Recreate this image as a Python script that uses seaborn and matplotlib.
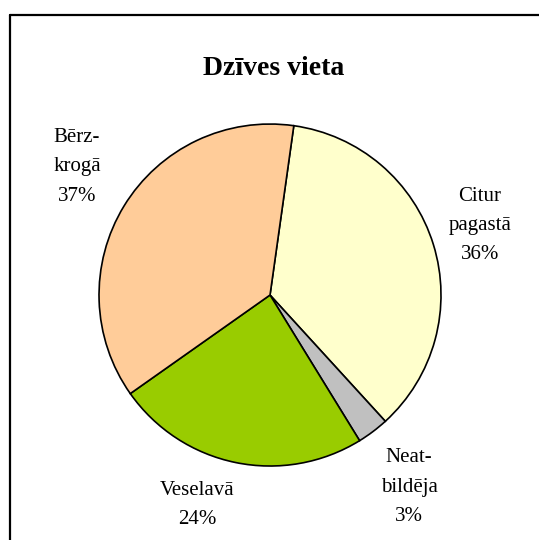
import matplotlib
matplotlib.use('Agg')
import matplotlib.pyplot as plt
import seaborn as sns
from matplotlib.lines import Line2D

# 데이터
vietas = ['Citur\npagastā', 'Neat-\nbildēja', 'Veselavā', 'Bērz-\nkrogā']
procenti = [36, 3, 24, 37]
krasas = ['#FFFFCC', '#C0C0C0', '#99CC00', '#FFCC99']

# label positions (data coords, pie radius = 1)
label_pos = [(1.228, 0.409), (0.813, -1.123), (-0.427, -1.228), (-1.129, 0.749)]

sns.set_style('white')
plt.rcParams['font.family'] = ['Liberation Serif', 'DejaVu Serif']

fig = plt.figure(figsize=(5.39, 5.40), dpi=100)
ax = fig.add_axes([0.1837, 0.137, 0.6345, 0.6333])

wedges, texts = ax.pie(procenti,
                       labels=[f'{v}\n{p}%' for v, p in zip(vietas, procenti)],
                       colors=sns.color_palette(krasas),
                       startangle=82,
                       counterclock=False,
                       wedgeprops=dict(edgecolor='black', linewidth=1.2),
                       textprops=dict(fontsize=15, color='black'))
for t, pos in zip(texts, label_pos):
    t.set_position(pos)
    t.set_ha('center')
    t.set_va('center')
    t.set_multialignment('center')
    t.set_linespacing(1.72)
    t.set_clip_on(False)

ax.set_xlim(-1, 1)
ax.set_ylim(-1, 1)
ax.set_aspect('equal')
ax.axis('off')

fig.text(0.507, 0.862, 'Dzīves vieta', ha='center', va='baseline',
         fontsize=20, fontweight='bold', color='black')

# chart border (only left and top visible)
fig.add_artist(Line2D([9.5 / 539, 9.5 / 539], [1 - 14.5 / 540, -0.1],
                      color='black', linewidth=1.6, transform=fig.transFigure))
fig.add_artist(Line2D([9.5 / 539, 1.1], [1 - 14.5 / 540, 1 - 14.5 / 540],
                      color='black', linewidth=1.6, transform=fig.transFigure))

plt.savefig('out.png', dpi=100)
